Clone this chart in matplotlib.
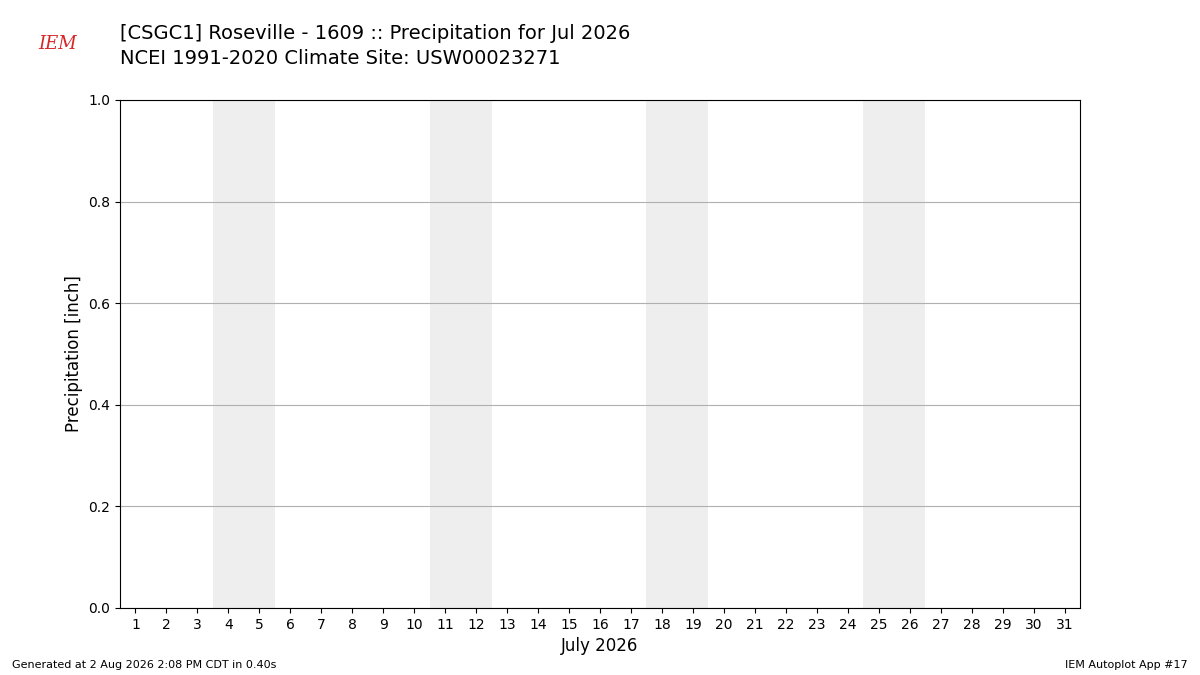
import matplotlib
matplotlib.use("Agg")
import matplotlib.pyplot as plt

days = list(range(1, 32))
weekend_starts = [4, 11, 18, 25]
yticks = [0.0, 0.2, 0.4, 0.6, 0.8, 1.0]

fig = plt.figure(figsize=(12, 6.75), dpi=100)
ax = fig.add_axes([0.1, 0.0993, 0.8, 0.7526])
for d in weekend_starts:
    ax.axvspan(d - 0.5, d + 1.5, color="#eeeeee", zorder=0, lw=0)
ax.set_xlim(0.5, 31.5)
ax.set_ylim(0, 1)
ax.set_xticks(days)
ax.set_xticklabels([str(d) for d in days])
ax.set_yticks(yticks)
ax.yaxis.grid(True, color="#b0b0b0", lw=0.8)
ax.set_axisbelow(True)
ax.set_ylabel("Precipitation [inch]", fontsize=12)
ax.set_xlabel("July 2026", fontsize=12)

fig.text(0.1, 0.965, "[CSGC1] Roseville - 1609 :: Precipitation for Jul 2026", fontsize=14, va="top")
fig.text(0.1, 0.928, "NCEI 1991-2020 Climate Site: USW00023271", fontsize=14, va="top")
fig.text(0.032, 0.935, "IEM", fontsize=13, color="#d62728", style="italic", va="center", family="serif")
fig.text(0.01, 0.01, "Generated at 2 Aug 2026 2:08 PM CDT in 0.40s", fontsize=8)
fig.text(0.99, 0.01, "IEM Autoplot App #17", fontsize=8, ha="right")
fig.savefig("out.png")
